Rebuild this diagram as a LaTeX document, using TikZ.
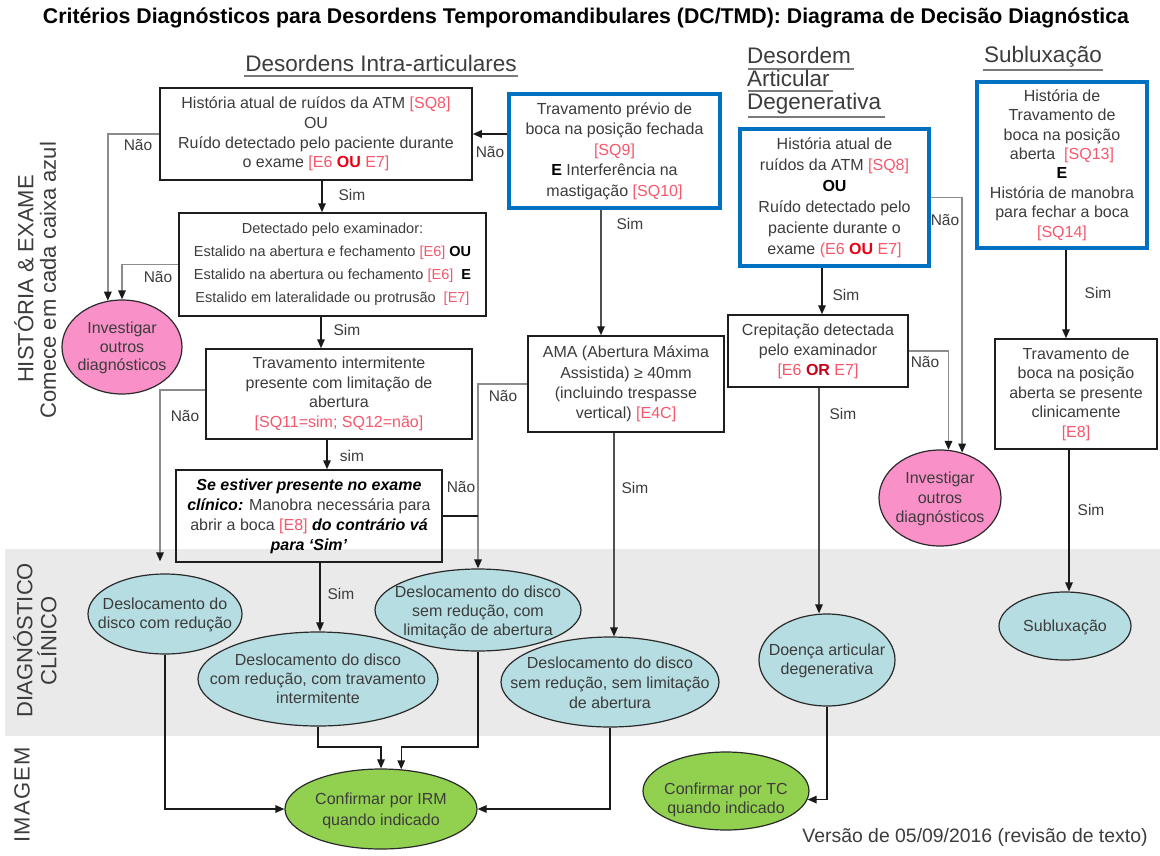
\documentclass[tikz,border=0pt]{standalone}
\usepackage{fontspec}
\setmainfont{Liberation Sans}
\usetikzlibrary{arrows.meta,shapes.geometric,calc}

\definecolor{txt}{HTML}{3C3C3C}
\definecolor{refred}{HTML}{F5576C}
\definecolor{boldred}{HTML}{E60012}
\definecolor{ordark}{HTML}{C8001A}
\definecolor{boxline}{HTML}{1E1E1E}
\definecolor{boxblue}{HTML}{0070C0}
\definecolor{pinkc}{HTML}{F990C8}
\definecolor{tealc}{HTML}{B6DDE1}
\definecolor{greenc}{HTML}{92D050}
\definecolor{ellline}{HTML}{2A2A2A}
\definecolor{bandgray}{HTML}{EAEAEA}
\definecolor{ulgray}{HTML}{7A7A7A}
\definecolor{conndark}{HTML}{1A1A1A}
\definecolor{conngray}{HTML}{8C8C8C}
\definecolor{connmid}{HTML}{505050}

\newcommand{\rf}[1]{\textcolor{refred}{#1}}
\newcommand{\bor}[1]{\textcolor{boldred}{\textbf{#1}}}
\newcommand{\bk}[1]{\textcolor{black}{\textbf{#1}}}
\newcommand{\bi}[1]{\textcolor{black}{\textbf{\textit{#1}}}}

\begin{document}
\begin{tikzpicture}[x=1pt,y=-1pt,
  box/.style={draw=boxline, line width=1.5pt, rectangle, inner sep=0pt,
    align=center, text=txt, font=\fontsize{16}{19.7}\selectfont},
  bluebox/.style={box, draw=boxblue, line width=4.5pt},
  ell/.style={ellipse, draw=ellline, line width=1.2pt, inner sep=0pt},
  etext/.style={align=center, text=txt, inner sep=0pt, font=\fontsize{16}{19.5}\selectfont},
  lbl/.style={text=txt, inner sep=0pt, font=\fontsize{15.5}{18}\selectfont},
  head/.style={text=txt, inner sep=0pt, font=\fontsize{22.5}{26}\selectfont},
  side/.style={text=txt, inner sep=0pt, rotate=90, font=\fontsize{22}{26}\selectfont},
  uline/.style={draw=ulgray, line width=2.5pt},
  tip/.style={-{Triangle[length=9pt,width=7.5pt,color=conndark]}},
  arr/.style={draw=conndark, line width=1.4pt, tip},
  darr/.style={draw=connmid, line width=1.4pt, tip},
  garr/.style={draw=conngray, line width=1.6pt, tip},
  plainline/.style={draw=conndark, line width=1.4pt}]

\useasboundingbox (0,0) rectangle (1160,855);
\fill[white] (0,0) rectangle (1160,855);

% band behind the clinical diagnoses
\fill[bandgray] (5,549) rectangle (1160,736);

% title
\node[inner sep=0pt, font=\bfseries\fontsize{21.3}{24}\selectfont] (title) at (586,18)
  {Critérios Diagnósticos para Desordens Temporomandibulares (DC/TMD): Diagrama de Decisão Diagnóstica};

% column headings
\node[head] (h1) at (381,63) {Desordens Intra-articulares};
\draw[uline] (244,76) -- (518,76);
\node[head, anchor=west] (h2a) at (747,55) {Desordem};
\draw[uline] (748,69) -- (854,69);
\node[head, anchor=west] (h2b) at (747,78) {Articular};
\draw[uline] (748,91) -- (833,91);
\node[head, anchor=west] (h2c) at (747,104) {Degenerativa};
\draw[uline] (748,117) -- (885,117);
\node[head] (h3) at (1043,57) {Subluxação};
\draw[uline] (983,70) -- (1103,70);

% row labels
\node[side] (r1a) at (24,279) {HISTÓRIA \& EXAME};
\node[side] (r1b) at (48,280) {Comece em cada caixa azul};
\node[side] (r2a) at (23,640) {DIAGNÓSTICO};
\node[side] (r2b) at (47,641) {CLÍNICO};
\node[side, font=\fontsize{22}{26}\selectfont\addfontfeature{LetterSpace=6}] (r3) at (22,795) {IMAGEM};

% decision boxes
\node[box, minimum width=312pt, minimum height=92pt] (b1) at (316,134)
  {História atual de ruídos da ATM \rf{[SQ8]}\\ OU\\ Ruído detectado pelo paciente durante\\
   o exame \rf{[E6 \bor{OU} E7]}};
\node[bluebox, minimum width=211pt, minimum height=114pt, font=\fontsize{16}{20.5}\selectfont] (b2) at (614.5,151)
  {Travamento prévio de\\ boca na posição fechada\\ \rf{[SQ9]}\\ \bk{E} Interferência na\\ mastigação \rf{[SQ10]}};
\node[box, minimum width=307pt, minimum height=103pt, font=\fontsize{14.5}{23}\selectfont] (b3) at (332.5,264.5)
  {Detectado pelo examinador:\\ Estalido na abertura e fechamento \rf{[E6]} \bk{OU}\\
   Estalido na abertura ou fechamento \rf{[E6]}\ \ \bk{E}\\ Estalido em lateralidade ou protrusão\ \ \rf{[E7]}};
\node[box, minimum width=266pt, minimum height=90pt, font=\fontsize{16}{19.5}\selectfont] (b4) at (339,394)
  {Travamento intermitente\\ presente com limitação de\\ abertura\\ \rf{[SQ11=sim; SQ12=não]}};
\node[box, minimum width=266pt, minimum height=92pt, font=\fontsize{16}{20}\selectfont] (b5) at (309,516)
  {\bi{Se estiver presente no exame}\\ \bi{clínico:} Manobra necessária para\\
   abrir a boca \rf{[E8]} \bi{do contrário vá}\\ \bi{para ‘Sim’}};
\node[box, minimum width=196pt, minimum height=96pt, font=\fontsize{16}{20.3}\selectfont] (ama) at (626,384)
  {AMA (Abertura Máxima\\ Assistida) ≥ 40mm\\ (incluindo trespasse\\ vertical) \rf{[E4C]}};
\node[bluebox, minimum width=189pt, minimum height=137pt, font=\fontsize{16}{21}\selectfont] (b6) at (834.5,197.5)
  {História atual de\\ ruídos da ATM \rf{[SQ8]}\\ \bk{OU}\\ Ruído detectado pelo\\ paciente durante o\\
   exame \rf{(E6 \bor{OU} E7]}};
\node[box, minimum width=180pt, minimum height=72pt, font=\fontsize{16}{20}\selectfont] (b8) at (818,351)
  {Crepitação detectada\\ pelo examinador\\ \rf{[E6 \textcolor{ordark}{\textbf{OR}} E7]}};
\node[bluebox, minimum width=170pt, minimum height=166pt, font=\fontsize{16}{19.4}\selectfont] (b7) at (1062,165)
  {História de\\ Travamento de\\ boca na posição\\ aberta\ \ \rf{[SQ13]}\\ \bk{E}\\ História de manobra\\
   para fechar a boca\\ \rf{[SQ14]}};
\node[box, minimum width=162pt, minimum height=110pt, font=\fontsize{16}{19.5}\selectfont] (b10) at (1076,394)
  {Travamento de\\ boca na posição\\ aberta se presente\\ clinicamente\\ \rf{[E8]}};

% outcome ellipses
\node[ell, fill=pinkc, minimum width=120pt, minimum height=94pt] (pk1) at (122,347) {};
\node[etext, font=\fontsize{16}{18.5}\selectfont] (pk1t) at (122,348) {Investigar\\ outros\\ diagnósticos};
\node[ell, fill=pinkc, minimum width=122pt, minimum height=96pt] (pk2) at (940,498) {};
\node[etext] (pk2t) at (940,499) {Investigar\\ outros\\ diagnósticos};

\node[ell, fill=tealc, minimum width=154pt, minimum height=80pt] (e1) at (165,614) {};
\node[etext, font=\fontsize{16}{19}\selectfont] (e1t) at (165,615) {Deslocamento do\\ disco com redução};
\node[ell, fill=tealc, minimum width=240pt, minimum height=94pt] (e2) at (318,679) {};
\node[etext, font=\fontsize{16}{19}\selectfont] (e2t) at (318,679) {Deslocamento do disco\\ com redução, com travamento\\ intermitente};
\node[ell, fill=tealc, minimum width=206pt, minimum height=82pt] (e3) at (478,610) {};
\node[etext, font=\fontsize{16}{19}\selectfont] (e3t) at (478,612) {Deslocamento do disco\\ sem redução, com\\ limitação de abertura};
\node[ell, fill=tealc, minimum width=218pt, minimum height=90pt] (e4) at (610,682) {};
\node[etext, font=\fontsize{16}{20}\selectfont] (e4t) at (610,683) {Deslocamento do disco\\ sem redução, sem limitação\\ de abertura};
\node[ell, fill=tealc, minimum width=136pt, minimum height=92pt] (dad) at (827,660) {};
\node[etext, font=\fontsize{16}{19}\selectfont] (dadt) at (827,661) {Doença articular\\ degenerativa};
\node[ell, fill=tealc, minimum width=132pt, minimum height=68pt] (sub) at (1065,626) {};
\node[etext] (subt) at (1065,627) {Subluxação};

\node[ell, fill=greenc, minimum width=192pt, minimum height=80pt] (irm) at (381,809) {};
\node[etext, font=\fontsize{16}{21}\selectfont] (irmt) at (381,811) {Confirmar por IRM\\ quando indicado};
\node[ell, fill=greenc, minimum width=166pt, minimum height=78pt] (tc) at (726,791) {};
\node[etext, font=\fontsize{16}{18.5}\selectfont] (tct) at (726,800) {Confirmar por TC\\ quando indicado};

% version note
\node[text=txt, inner sep=0pt, font=\fontsize{19.4}{22}\selectfont] (ver) at (975,837)
  {Versão de 05/09/2016 (revisão de texto)};

% connectors: intra-articular column
\draw[garr] (b1.west) -| (pk1.107);
\draw[garr] (b3.west) -| (pk1.north);
\draw[arr] (b1.east -| b2.west) -- (b1.east);
\coordinate (s1) at ($(b1.south)+(6,0)$);
\draw[arr] (s1) -- (s1 |- b3.north);
\coordinate (s2) at ($(b3.south)+(-11.5,0)$);
\draw[arr] (s2) -- (s2 |- b4.north);
\coordinate (s3) at ($(b4.south)+(-12,0)$);
\draw[arr] (s3) -- (s3 |- b5.north);
\coordinate (e1top) at ($(e1.north)+(-5,-12)$);
\draw[garr] ($(b4.west)+(0,-4)$) -| (e1top);
\draw[garr] (ama.west) -| (e3.north);
\draw[plainline] (b5.east) -- (b5.east -| e3.north);
\coordinate (s4) at ($(b5.south)+(11,0)$);
\draw[arr] (s4) -- (s4 |- e2.north);
\coordinate (s5) at ($(b2.south)+(-13.5,0)$);
\draw[darr] (s5) -- (s5 |- ama.north);
\coordinate (s6) at ($(ama.south)+(-12,0)$);
\draw[darr] (s6) -- (s6 |- e4.north);

% connectors: degenerative column
\coordinate (s7) at ($(b6.south)+(-12.5,0)$);
\draw[arr] (s7) -- (s7 |- b8.north);
\coordinate (s8) at ($(b8.south)+(1,0)$);
\draw[darr] (s8) -- (s8 |- dad.north);
\draw[garr] (b8.east) -| (pk2.80);
\draw[garr] (b6.east) -| (pk2.64);

% connectors: subluxation column
\coordinate (s9) at ($(b7.south)+(4,0)$);
\draw[arr] (s9) -- (s9 |- b10.north);
\coordinate (s10) at ($(b10.south)+(-7,0)$);
\draw[arr] (s10) -- (s10 |- sub.north);

% connectors: imaging
\coordinate (bus) at (0,747);
\draw[arr] (e1.south) |- (irm.west);
\draw[arr] (e2.south) -- (e2.south |- bus) -| (irm.north);
\draw[arr] (e3.south) -- (e3.south |- bus) -| (irm.63);
\draw[arr] (e4.south) |- (irm.east);
\draw[arr] (dad.south) |- (tc.-6);

% branch labels
\node[lbl] (n1) at (138,145) {Não};
\node[lbl] (n2) at (490,152) {Não};
\node[lbl] (y1) at (352,195) {Sim};
\node[lbl] (n3) at (158,277) {Não};
\node[lbl] (y2) at (347,330) {Sim};
\node[lbl] (n4) at (185,416) {Não};
\node[lbl] (y3) at (352,456) {sim};
\node[lbl] (n5) at (503,396) {Não};
\node[lbl] (n6) at (461,487) {Não};
\node[lbl] (y4) at (341,594) {Sim};
\node[lbl] (y5) at (630,224) {Sim};
\node[lbl] (y6) at (635,488) {Sim};
\node[lbl] (y7) at (846,295) {Sim};
\node[lbl] (n7) at (945,220) {Não};
\node[lbl] (n8) at (925,362) {Não};
\node[lbl] (y8) at (843,414) {Sim};
\node[lbl] (y9) at (1098,293) {Sim};
\node[lbl] (y10) at (1091,510) {Sim};

\end{tikzpicture}
\end{document}
